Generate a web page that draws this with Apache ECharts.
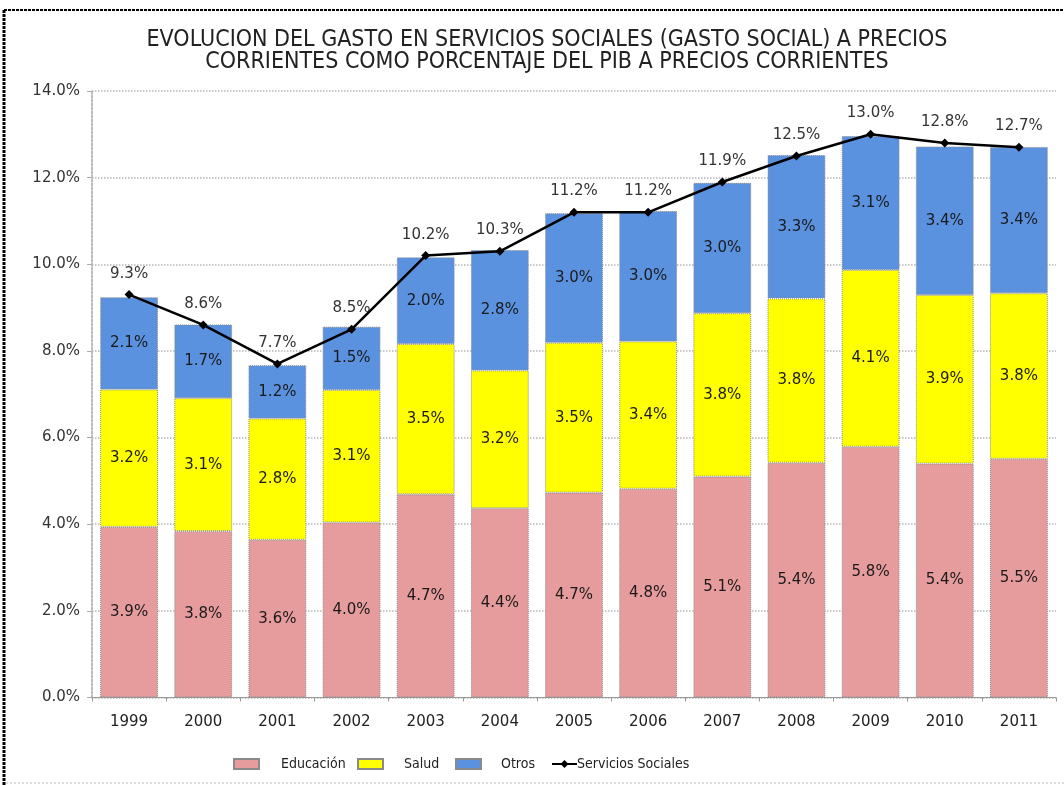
<!DOCTYPE html>
<html>
<head>
<meta charset="utf-8">
<script src="https://cdn.jsdelivr.net/npm/echarts@6/dist/echarts.min.js"></script>
<style>
html,body{margin:0;padding:0;background:#fff;}
#chart{width:1064px;height:785px;}
</style>
</head>
<body>
<div id="chart"></div>
<script>
const categories = ['1999','2000','2001','2002','2003','2004','2005','2006','2007','2008','2009','2010','2011'];
const educacion = [3.94,3.84,3.64,4.04,4.69,4.37,4.73,4.82,5.10,5.42,5.79,5.40,5.51];
const salud     = [3.17,3.07,2.80,3.06,3.47,3.18,3.46,3.40,3.77,3.79,4.08,3.89,3.82];
const otros     = [2.13,1.70,1.23,1.46,2.00,2.78,2.99,3.01,3.01,3.31,3.09,3.43,3.38];
const serviciosSociales = [9.3,8.6,7.7,8.5,10.2,10.3,11.2,11.2,11.9,12.5,13.0,12.8,12.7];
const yTicks = [0,2,4,6,8,10,12,14];
const seriesNames = ['Educación','Salud','Otros','Servicios Sociales'];

const titleText = 'EVOLUCION DEL GASTO EN SERVICIOS SOCIALES (GASTO SOCIAL) A PRECIOS\nCORRIENTES COMO PORCENTAJE DEL PIB A PRECIOS CORRIENTES';
const narrow = "'Liberation Sans Narrow','DejaVu Sans Condensed','Liberation Sans',sans-serif";
const wide = "'DejaVu Sans',sans-serif";
const pct = v => Number(v).toFixed(1) + '%';

const barLabel = {
  show: true, position: 'inside', fontFamily: wide, fontSize: 15,
  color: '#1a1a1a', formatter: p => pct(p.value)
};
const barBorder = {borderColor: '#8a8a8a', borderWidth: 1, borderType: 'dotted'};

const legendLefts = [228, 352, 450, 546];
const legendPads = [17, 16, 15, -5];
const legends = seriesNames.map((n, i) => ({
  data: [n], left: legendLefts[i], top: 752, itemWidth: 25, itemHeight: 10,
  icon: i < 3 ? 'rect' : undefined,
  textStyle: {fontFamily: narrow, fontSize: 14, color: '#222', padding: [0,0,0,legendPads[i]]}
}));

const chart = echarts.init(document.getElementById('chart'), null, {renderer: 'canvas'});
chart.setOption({
  animation: false,
  backgroundColor: '#fff',
  title: {
    text: titleText, left: 542, textAlign: 'center', top: 24,
    textStyle: {fontFamily: narrow, fontSize: 23, fontWeight: 'normal', color: '#222', lineHeight: 22}
  },
  legend: legends,
  grid: {left: 92, right: 8, top: 91, bottom: 87.5, containLabel: false},
  xAxis: {
    type: 'category', data: categories,
    axisLine: {lineStyle: {color: '#999', width: 1}},
    axisTick: {show: true, length: 4, lineStyle: {color: '#999'}},
    axisLabel: {fontFamily: wide, fontSize: 15, color: '#222', margin: 17}
  },
  yAxis: {
    type: 'value', min: yTicks[0], max: yTicks[yTicks.length-1], interval: 2,
    axisLine: {show: true, lineStyle: {color: '#bbb', type: 'dotted', width: 2}},
    axisTick: {show: true, length: 5, lineStyle: {color: '#aaa'}},
    axisLabel: {fontFamily: wide, fontSize: 15, color: '#333', margin: 12, formatter: v => pct(v)},
    splitLine: {show: true, lineStyle: {color: '#b5b5b5', type: 'dotted', width: 1.5}}
  },
  series: [{
    name: seriesNames[0], type: 'bar', stack: 'g', data: educacion,
    barCategoryGap: '22%',
    itemStyle: Object.assign({color: '#E69C9C'}, barBorder),
    label: barLabel
  },{
    name: seriesNames[1], type: 'bar', stack: 'g', data: salud,
    itemStyle: Object.assign({color: '#FFFF00'}, barBorder),
    label: barLabel
  },{
    name: seriesNames[2], type: 'bar', stack: 'g', data: otros,
    itemStyle: Object.assign({color: '#5A92E0'}, barBorder),
    label: barLabel
  },{
    name: seriesNames[3], type: 'line', data: serviciosSociales,
    symbol: 'diamond', symbolSize: 9,
    lineStyle: {color: '#000', width: 2.5},
    itemStyle: {color: '#000'},
    z: 5,
    label: {show: true, position: 'top', distance: 9, fontFamily: wide, fontSize: 15, color: '#333', formatter: p => pct(p.value)}
  }],
  graphic: [
    {type: 'line', shape: {x1: 4, y1: 10, x2: 4, y2: 785}, style: {stroke: '#000', lineWidth: 3, lineDash: [3,1]}},
    {type: 'line', shape: {x1: 4, y1: 10, x2: 1064, y2: 10}, style: {stroke: '#000', lineWidth: 2, lineDash: [3,1]}},
    {type: 'line', shape: {x1: 6, y1: 783, x2: 1064, y2: 783}, style: {stroke: '#bbb', lineWidth: 1, lineDash: [2,2]}}
  ]
});
</script>
</body>
</html>
